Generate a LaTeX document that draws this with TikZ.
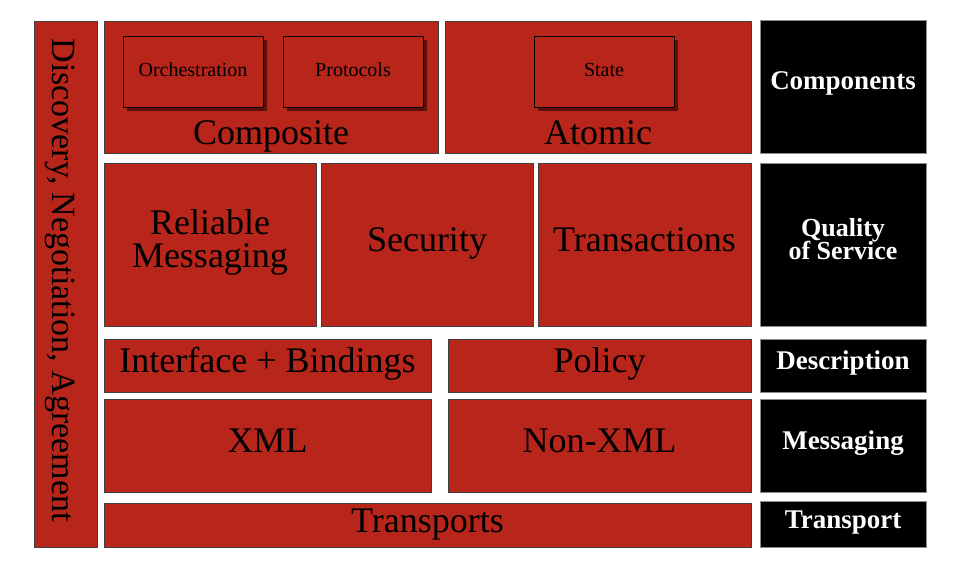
\documentclass[tikz,border=0pt]{standalone}
\usepackage{fontspec}
\setmainfont{Liberation Serif}
\begin{document}
\begin{tikzpicture}[x=1pt,y=-1pt,
  layer/.style={draw=black!75,line width=0.8pt,fill=wsred},
  tag/.style={draw=black!45,line width=0.8pt,fill=black},
  inner/.style={draw=black,line width=0.8pt,fill=wsred},
  shadowbox/.style={fill=wsshadow,draw=none},
  big/.style={anchor=base,inner sep=0pt,font=\fontsize{36}{36}\selectfont},
  small/.style={anchor=base,inner sep=0pt,font=\fontsize{20}{20}\selectfont},
  taglbl/.style={anchor=base,inner sep=0pt,text=white,font=\fontsize{27}{27}\selectfont\bfseries},
  taglblsm/.style={taglbl,font=\fontsize{26}{26}\selectfont\bfseries}]
\definecolor{wsred}{HTML}{B8251B}
\definecolor{wsshadow}{HTML}{5F100B}
\useasboundingbox (0,0) rectangle (960,579);

% vertical band
\draw[layer] (34,21) rectangle (97,547);
\node[anchor=base,inner sep=0pt,rotate=-90,font=\fontsize{34}{34}\selectfont] (disc) at (52,280) {Discovery, Negotiation, Agreement};

% components row
\draw[layer] (104,21) rectangle (438,153);
\node[big] (comp) at (271,144) {Composite};
\fill[shadowbox] (127,40) rectangle (267,111);
\draw[inner] (123,36) rectangle (263,107);
\node[small] (orch) at (193,76) {Orchestration};
\fill[shadowbox] (287,40) rectangle (427,111);
\draw[inner] (283,36) rectangle (423,107);
\node[small] (prot) at (353,76) {Protocols};

\draw[layer] (445,21) rectangle (751,153);
\node[big] (atom) at (598,144) {Atomic};
\fill[shadowbox] (538,40) rectangle (678,111);
\draw[inner] (534,36) rectangle (674,107);
\node[small] (state) at (604,76) {State};

\draw[tag] (760,20) rectangle (926,153);
\node[taglbl] (tcomp) at (843,89) {Components};

% quality of service row
\draw[layer] (104,163) rectangle (316,326);
\node[big] (rel1) at (210,234) {Reliable};
\node[big] (rel2) at (210,267) {Messaging};
\draw[layer] (321,163) rectangle (533,326);
\node[big] (sec) at (427,251) {Security};
\draw[layer] (538,163) rectangle (751,326);
\node[big] (tx) at (644.5,251) {Transactions};
\draw[tag] (760,163) rectangle (926,326);
\node[taglblsm] (tqos1) at (843,236) {Quality};
\node[taglblsm] (tqos2) at (843,259) {of Service};

% description row
\draw[layer] (104,339) rectangle (431,392);
\node[big] (intf) at (267.5,372) {Interface + Bindings};
\draw[layer] (448,339) rectangle (751,392);
\node[big] (pol) at (599.5,372) {Policy};
\draw[tag] (760,339) rectangle (926,392);
\node[taglbl] (tdesc) at (843,369) {Description};

% messaging row
\draw[layer] (104,399) rectangle (431,492);
\node[big] (xml) at (267.5,452) {XML};
\draw[layer] (448,399) rectangle (751,492);
\node[big] (nxml) at (599.5,452) {Non-XML};
\draw[tag] (760,399) rectangle (926,492);
\node[taglbl] (tmsg) at (843,449) {Messaging};

% transport row
\draw[layer] (104,503) rectangle (751,547);
\node[big] (trs) at (427.5,532) {Transports};
\draw[tag] (760,501) rectangle (926,547);
\node[taglbl] (ttr) at (843,528) {Transport};
\end{tikzpicture}
\end{document}
